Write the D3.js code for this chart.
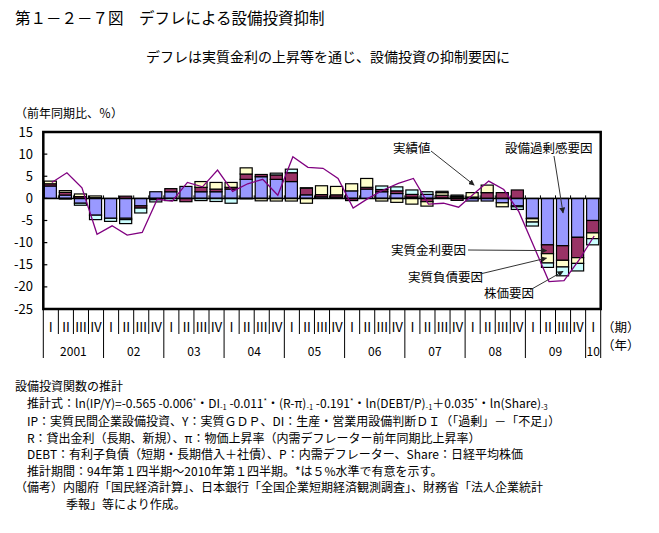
<!DOCTYPE html>
<html><head><meta charset="utf-8">
<script src="https://cdn.jsdelivr.net/npm/d3@7"></script>
<style>
body{margin:0;background:#fff}
text{font-family:"Noto Sans CJK JP","Noto Sans",sans-serif;fill:#000}
</style>
</head><body>
<svg id="chart" width="659" height="533"></svg>
<script>
// ---- data ----
const yearLabels = ["2001","02","03","04","05","06","07","08","09","10"];
const quarterLabels = ["Ⅰ","Ⅱ","Ⅲ","Ⅳ"];
const quarters = d3.range(37).map(i => (2001 + Math.floor(i/4)) + "Q" + (i%4+1));
const yTicks = [15,10,5,0,-5,-10,-15,-20,-25];
// 設備過剰感要因
const overCapacity = [2.8,0.75,-1.1,-3.8,-4.5,-4.5,-1.7,1.5,1.5,2.7,1.5,1.5,2.1,4.3,4.9,4.3,3.8,0.8,0.35,0.3,1.7,2.1,1.5,1.1,0.3,0.9,0.1,0.15,-0.6,-0.6,-1.0,-1.7,-4.5,-10.5,-10.7,-8.8,-5.0];
// 実質金利要因
const realRate = [0.5,0.6,0.4,0.15,0,0.5,-0.5,-0.3,0.7,-0.75,1.0,0.6,0.4,1.2,0.5,1.0,2.0,1.5,0.5,0.5,-0.5,0.4,0.5,0.6,0.6,-0.75,0.6,-0.45,0.3,1.3,1.3,1.9,-0.1,-2.0,-3.3,-4.6,-2.8];
// 実質負債要因
const realDebt = [0.6,0.4,0.6,0.4,0,-0.3,0,0,0,0,1.3,1.5,1.1,1.4,-0.55,-0.6,-0.6,-1.1,2.0,1.9,1.6,2.0,-0.6,-0.9,-1.3,-1.0,0.6,0.3,1.0,1.7,-0.9,-0.2,-0.75,-2.1,-1.5,-1.3,-1.3];
// 株価要因
const stockPrice = [0,-0.15,-0.45,-1.0,-0.7,-0.9,-1.1,-0.5,-0.5,0,-0.5,-0.7,-1.1,-0.1,0,0.4,0.8,0.1,0,0,0,0,0.8,0.9,1.0,0.6,0.3,0.3,0,0,0,-0.6,-0.9,-1.0,-2.0,-1.7,-1.4];
// 実績値
const actual = [3.6,5.8,2.4,-8.1,-6.2,-8.3,-7.7,-0.2,-0.6,3.6,2.6,6.4,1.6,3.3,4.3,0.7,9.4,7.0,6.8,4.5,-2.2,0.0,1.9,3.4,4.5,-1.3,-1.1,-2.0,1.0,3.9,2.0,-3.0,-10.9,-18.8,-18.6,-13.9,-8.5];

const seriesKeys = ["overCapacity","realRate","realDebt","stockPrice"];
const seriesColors = {overCapacity:"#9999FF", realRate:"#993366", realDebt:"#FFFFCC", stockPrice:"#CCFFFF"};

const rows = quarters.map((q,i) => ({q, i,
  overCapacity: overCapacity[i], realRate: realRate[i], realDebt: realDebt[i], stockPrice: stockPrice[i]}));

// ---- layout ----
const svg = d3.select("#chart");
svg.append("rect").attr("width",659).attr("height",533).attr("fill","#fff");
const L = 43.3, R = 600.7, T = 132, B = 309;
const x = d3.scaleBand().domain(d3.range(quarters.length)).range([L, R]).padding(0);
const bw = x.bandwidth();
const y = d3.scaleLinear().domain([-25, 15]).range([B, T]);

// titles
svg.append("text").attr("x",15).attr("y",24).attr("font-size",15.5).text("第１－２－７図　デフレによる設備投資抑制");
svg.append("text").attr("x",328).attr("y",62).attr("font-size",14).attr("text-anchor","middle")
  .text("デフレは実質金利の上昇等を通じ、設備投資の抑制要因に");
svg.append("text").attr("x",15).attr("y",118).attr("font-size",12).text("（前年同期比、％）");

// bars
const stacked = d3.stack().keys(seriesKeys).offset(d3.stackOffsetDiverging)(rows);
const g = svg.append("g");
stacked.forEach(s => {
  g.append("g").selectAll("rect").data(s).join("rect")
    .attr("x", d => x(d.data.i) + 1)
    .attr("width", bw - 3)
    .attr("y", d => y(Math.max(d[0], d[1])))
    .attr("height", d => Math.abs(y(d[0]) - y(d[1])))
    .attr("fill", seriesColors[s.key])
    .attr("stroke", "#000").attr("stroke-width", 1.2);
});

// zero line + ticks
svg.append("line").attr("x1",L).attr("x2",R).attr("y1",y(0)).attr("y2",y(0)).attr("stroke","#000").attr("stroke-width",1.5);
svg.append("g").selectAll("line").data(d3.range(1, quarters.length)).join("line")
  .attr("x1", i => L + i*bw).attr("x2", i => L + i*bw)
  .attr("y1", y(0)).attr("y2", y(0) - 3).attr("stroke","#000");

// actual line
const line = d3.line().x((d,i) => x(i) + bw/2 + 1).y(d => y(d));
svg.append("path").datum(actual).attr("d", line).attr("fill","none").attr("stroke","#800080").attr("stroke-width",1.3);

// frame
svg.append("rect").attr("x",L).attr("y",T).attr("width",R-L).attr("height",B-T)
  .attr("fill","none").attr("stroke","#000").attr("stroke-width",2.5);

// y axis
const ya = svg.append("g");
yTicks.forEach(t => {
  ya.append("line").attr("x1",L).attr("x2",L+4).attr("y1",y(t)).attr("y2",y(t)).attr("stroke","#000").attr("stroke-width",1.2);
  ya.append("text").attr("x",33).attr("y",y(t)+4.5).attr("text-anchor","end").attr("font-size",13).text(t);
});

// category axis
const xa = svg.append("g");
d3.range(quarters.length + 1).forEach(i => {
  const isYear = (i % 4 === 0) || i === quarters.length;
  xa.append("line").attr("x1", L + i*bw).attr("x2", L + i*bw)
    .attr("y1", B).attr("y2", isYear ? 358 : 334).attr("stroke","#000").attr("stroke-width",1);
});
xa.selectAll("text.q").data(quarters).join("text").attr("class","q")
  .attr("x", (d,i) => x(i) + bw/2).attr("y", 332).attr("text-anchor","middle").attr("font-size",13)
  .text((d,i) => quarterLabels[i%4]);
yearLabels.forEach((yl, k) => {
  const s = k*4, e = Math.min(k*4+4, quarters.length);
  xa.append("text").attr("x", L + (s+e)/2*bw).attr("y", 356).attr("text-anchor","middle").attr("font-size",12).text(yl);
});
svg.append("text").attr("x",602).attr("y",332).attr("font-size",12.5).text("（期）");
svg.append("text").attr("x",602).attr("y",350).attr("font-size",12.5).text("（年）");

// annotations
const defs = svg.append("defs");
defs.append("marker").attr("id","arr").attr("viewBox","0 0 10 10").attr("refX",9).attr("refY",5)
  .attr("markerWidth",6).attr("markerHeight",6).attr("orient","auto")
  .append("path").attr("d","M0,0L10,5L0,10z").attr("fill","#222");
const notes = [
  {label:"実績値", tx:393, ty:153, sx:431, sy:151, i:28, di:0.6, v:3.0},
  {label:"設備過剰感要因", tx:505, ty:153, sx:554, sy:156, i:34, di:0.5, v:-3.3},
  {label:"実質金利要因", tx:391, ty:255, sx:468, sy:250, i:33, di:0.4, v:-11.8},
  {label:"実質負債要因", tx:408, ty:282, sx:480, sy:274, i:33, di:0.4, v:-13.5},
  {label:"株価要因", tx:484, ty:298, sx:530, sy:290, i:34, di:0.5, v:-16.5}
];
notes.forEach(n => {
  svg.append("text").attr("x",n.tx).attr("y",n.ty).attr("font-size",12.5).text(n.label);
  svg.append("line").attr("x1",n.sx).attr("y1",n.sy).attr("x2",x(n.i)+bw*n.di).attr("y2",y(n.v))
    .attr("stroke","#333").attr("stroke-width",1).attr("marker-end","url(#arr)");
});

// footnotes
const fs = 12;
const foot = svg.append("g").attr("font-size",fs);
foot.append("text").attr("x",15).attr("y",391).text("設備投資関数の推計");
const eq = foot.append("text").attr("x",27).attr("y",408);
const parts = [
  ["推計式：ln(IP/Y)=-0.565 -0.006",""],["*","sup"],["・DI",""],["-1","sub"],[" -0.011",""],["*","sup"],
  ["・(R-π)",""],["-1","sub"],[" -0.191",""],["*","sup"],["・ln(DEBT/P)",""],["-1","sub"],["＋0.035",""],["*","sup"],
  ["・ln(Share)",""],["-3","sub"]
];
parts.forEach(([t,k], idx) => {
  const prev = idx>0 ? parts[idx-1][1] : "";
  let dy = 0;
  if (prev === "sup") dy += 4;
  if (prev === "sub") dy -= 2;
  if (k === "sup") dy -= 4;
  if (k === "sub") dy += 2;
  const ts = eq.append("tspan").attr("dy", dy).text(t);
  if (k) ts.attr("font-size",7.5);
});
const lines = [
  [27,426,"IP：実質民間企業設備投資、Y：実質ＧＤＰ、DI：生産・営業用設備判断ＤＩ（「過剰」－「不足」）"],
  [27,442.5,"R：貸出金利（長期、新規）、π：物価上昇率（内需デフレーター前年同期比上昇率）"],
  [27,459,"DEBT：有利子負債（短期・長期借入＋社債）、P：内需デフレーター、Share：日経平均株価"],
  [27,475.5,"推計期間：94年第１四半期～2010年第１四半期。*は５%水準で有意を示す。"],
  [15,492,"（備考）内閣府「国民経済計算」、日本銀行「全国企業短期経済観測調査」、財務省「法人企業統計"],
  [66,508.5,"季報」等により作成。"]
];
lines.forEach(([lx,ly,t]) => foot.append("text").attr("x",lx).attr("y",ly).text(t));
</script>
</body></html>
